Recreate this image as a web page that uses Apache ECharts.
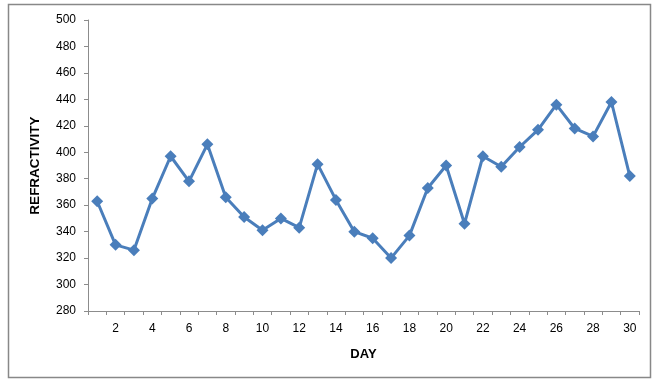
<!DOCTYPE html>
<html>
<head>
<meta charset="utf-8">
<script src="https://cdn.jsdelivr.net/npm/echarts@6/dist/echarts.min.js"></script>
<style>
  html, body { margin: 0; padding: 0; background: #fff; }
  #chart { width: 655px; height: 381px; }
</style>
</head>
<body>
<div id="chart"></div>
<script>
// Daily refractivity over a 30-day period
const days = [1,2,3,4,5,6,7,8,9,10,11,12,13,14,15,16,17,18,19,20,21,22,23,24,25,26,27,28,29,30];
const refractivity = [363,330,326,365,397,378,406,366,351,341,350,343,391,364,340,335,320,337,373,390,346,397,389,404,417,436,418,412,438,382];
const yMin = 280, yMax = 500, yStep = 20;

const chart = echarts.init(document.getElementById('chart'));
const axisGray = '#8c8c8c';
const font = 'Liberation Sans, Arial, sans-serif';

chart.setOption({
  animation: false,
  backgroundColor: '#fff',
  graphic: [{
    type: 'rect',
    shape: { x: 8.5, y: 4.5, width: 642, height: 373 },
    style: { fill: 'none', stroke: '#888', lineWidth: 1.5 },
    z: -1
  }],
  grid: { left: 88, right: 16, top: 20, bottom: 70 },
  xAxis: {
    type: 'category',
    data: days,
    boundaryGap: true,
    name: 'DAY',
    nameLocation: 'middle',
    nameGap: 37,
    nameTextStyle: { fontFamily: font, fontWeight: 'bold', fontSize: 13, color: '#000' },
    axisLine: { lineStyle: { color: axisGray, width: 1 } },
    axisTick: { show: true, interval: 0, alignWithLabel: false, length: 4, lineStyle: { color: axisGray } },
    axisLabel: {
      interval: (idx) => idx % 2 === 1,
      fontFamily: font, fontSize: 12, color: '#000', margin: 12
    },
    splitLine: { show: false }
  },
  yAxis: {
    type: 'value',
    min: yMin, max: yMax, interval: yStep,
    name: 'REFRACTIVITY',
    nameLocation: 'middle',
    nameGap: 46,
    nameRotate: 90,
    nameTextStyle: { fontFamily: font, fontWeight: 'bold', fontSize: 13.5, color: '#000' },
    axisLine: { show: true, lineStyle: { color: axisGray, width: 1 } },
    axisTick: { show: true, length: 4, lineStyle: { color: axisGray } },
    axisLabel: { fontFamily: font, fontSize: 12, color: '#000', margin: 12 },
    splitLine: { show: false }
  },
  series: [{
    type: 'line',
    data: refractivity,
    symbol: 'diamond',
    symbolSize: 12,
    lineStyle: { color: '#4a7ebb', width: 3 },
    itemStyle: { color: '#4a7ebb' }
  }]
});
</script>
</body>
</html>
